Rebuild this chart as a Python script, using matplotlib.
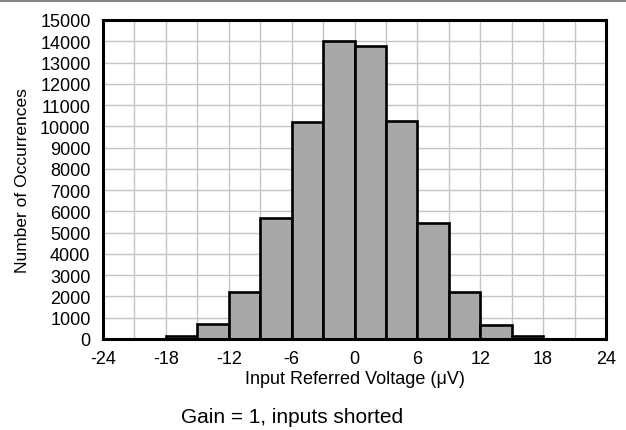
import matplotlib
matplotlib.use("Agg")
import matplotlib.pyplot as plt
from matplotlib.lines import Line2D

bin_edges = [-24, -21, -18, -15, -12, -9, -6, -3, 0, 3, 6, 9, 12, 15, 18, 21, 24]
counts = [0, 20, 120, 690, 2230, 5700, 10210, 13990, 13800, 10270, 5450, 2200, 650, 120, 10, 0]
xticks = [-24, -18, -12, -6, 0, 6, 12, 18, 24]
yticks = list(range(0, 15001, 1000))

plt.rcParams['font.family'] = ['Liberation Sans', 'DejaVu Sans']

fig = plt.figure(figsize=(6.26, 4.31), dpi=100)
ax = fig.add_axes([103/626, 1 - 340/431, (606-103)/626, (340-21)/431])

lefts = bin_edges[:-1]
widths = [b - a for a, b in zip(bin_edges[:-1], bin_edges[1:])]
ax.bar(lefts, counts, width=widths, align='edge', color='#a8a8a8',
       edgecolor='black', linewidth=1.9, zorder=3)

ax.set_xlim(-24, 24)
ax.set_ylim(0, 15000)
ax.set_xticks(list(range(-24, 25, 3)))
ax.set_xticklabels([str(v) if v in xticks else '' for v in range(-24, 25, 3)])
ax.set_yticks(yticks)
ax.set_yticklabels([str(v) for v in yticks])
ax.grid(True, color='#c4c4c4', linewidth=1.0, zorder=0)
ax.tick_params(length=0, labelsize=13, pad=9)
ax.tick_params(axis='x', pad=8)
for s in ax.spines.values():
    s.set_linewidth(2.2)
    s.set_zorder(4)

ax.set_xlabel('Input Referred Voltage (\u03bcV)', fontsize=13, labelpad=2)
ax.set_ylabel('Number of Occurrences', fontsize=12.5, labelpad=7)

fig.text(292/626, 1 - 418/431, 'Gain = 1, inputs shorted', fontsize=15,
         ha='center', va='center')
fig.add_artist(Line2D([0, 1], [1 - 2/431, 1 - 2/431], transform=fig.transFigure,
                      color='#888888', linewidth=1.5))

fig.savefig('out.png', dpi=100)
